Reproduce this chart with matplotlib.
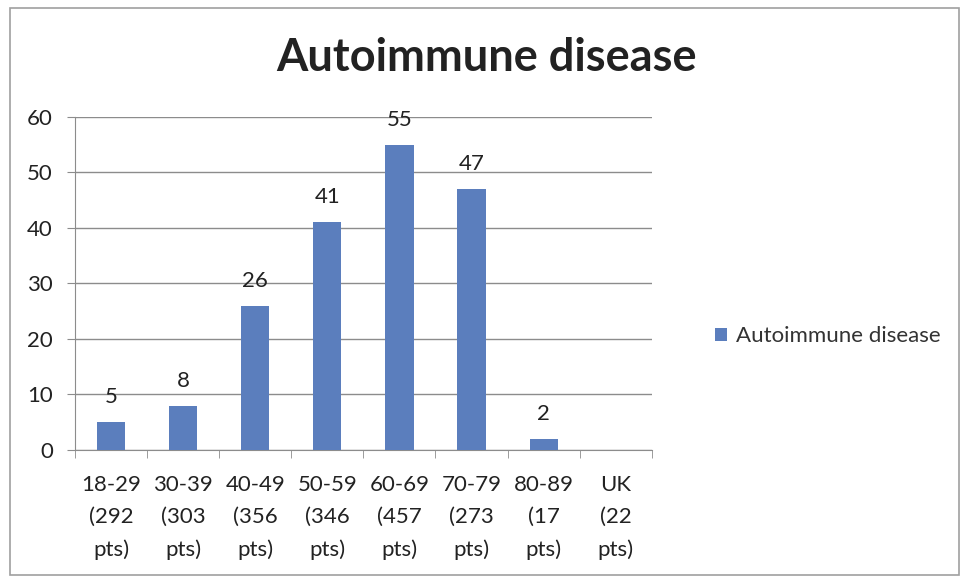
import numpy as np
import matplotlib.pyplot as plt

plt.rcParams['font.family'] = ['Lato', 'DejaVu Sans']

categories = ['18-29\n(292\npts)', '30-39\n(303\npts)', '40-49\n(356\npts)',
              '50-59\n(346\npts)', '60-69\n(457\npts)', '70-79\n(273\npts)',
              '80-89\n(17\npts)', 'UK\n(22\npts)']
values = [5, 8, 26, 41, 55, 47, 2, 0]
value_labels = ['5', '8', '26', '41', '55', '47', '2', '']
series_name = 'Autoimmune disease'

bar_color = '#5B7EBD'
text_color = '#222222'
line_color = '#8C8C8C'

fig = plt.figure(figsize=(9.67, 5.82), dpi=100)
fig.patch.set_facecolor('white')

# outer chart border
border = plt.Rectangle((0.010, 0.012), 0.982, 0.974, transform=fig.transFigure,
                       fill=False, edgecolor='#A0A0A0', linewidth=1.2)
fig.add_artist(border)

ax = fig.add_axes([0.0776, 0.2268, 0.5964, 0.5722])
x = np.arange(len(categories))
bars = ax.bar(x, values, width=0.39, color=bar_color, label=series_name, zorder=3)

for xi, v, lab in zip(x, values, value_labels):
    if lab:
        ax.text(xi, v + 2.7, lab, ha='center', va='bottom', fontsize=16,
                color=text_color, zorder=4)

ax.set_xlim(-0.5, len(categories) - 0.5)
ax.set_ylim(0, 60)
ax.set_yticks(np.arange(0, 61, 10))
ax.yaxis.grid(True, color=line_color, linewidth=1.0, zorder=0)
ax.set_axisbelow(True)

ax.set_xticks(x)
ax.set_xticklabels(categories, fontsize=16, color=text_color, linespacing=1.75)
ax.set_xticks(np.arange(-0.5, len(categories)), minor=True)
ax.tick_params(axis='x', which='major', length=0, pad=18)
ax.tick_params(axis='x', which='minor', length=6, color=line_color, direction='out')
ax.tick_params(axis='y', labelsize=16, labelcolor=text_color, length=6,
               color=line_color, pad=10)

for side in ['top', 'right']:
    ax.spines[side].set_visible(False)
for side in ['left', 'bottom']:
    ax.spines[side].set_color(line_color)

fig.text(0.503, 0.900, series_name, ha='center', va='center', fontsize=32.5,
         fontweight='bold', color=text_color)

fig.legend(handles=[bars], labels=[series_name], loc='center left',
           bbox_to_anchor=(0.719, 0.422), frameon=False, fontsize=16,
           handlelength=0.55, handleheight=0.55, handletextpad=0.4,
           labelcolor='#333333')

fig.savefig('out.png', dpi=100)
